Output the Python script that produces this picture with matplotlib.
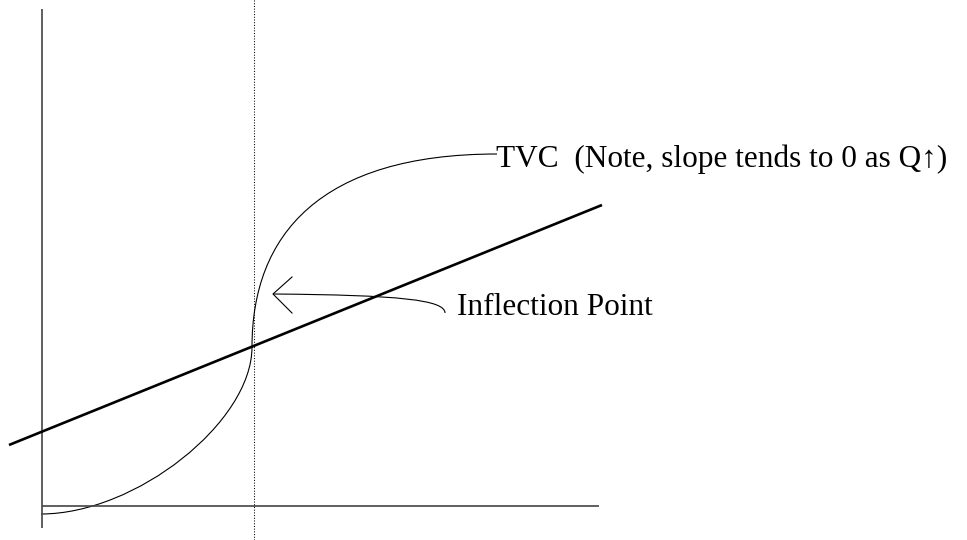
#!/usr/bin/env python3
"""
Sketch of a total variable cost (TVC) curve with its inflection point,
drawn in pixel coordinates of the original diagram.
"""
import matplotlib
matplotlib.use("Agg")
import matplotlib.pyplot as plt
from matplotlib.path import Path
from matplotlib.patches import PathPatch

# axes of the sketch (pixel coords, y down)
yaxis_x = [42, 42]
yaxis_y = [9, 528]
xaxis_x = [42, 599]
xaxis_y = [506, 506]

# dotted guide through the inflection point
guide_x = [254, 254]
guide_y = [0, 540]

# straight (tangent-like) line
line_x = [9, 602]
line_y = [445, 205]

# TVC curve as two cubic bezier pieces: start, ctrl, ctrl, end
tvc_low_x = [41, 136, 252, 252]
tvc_low_y = [514, 514, 422, 347]
tvc_high_x = [252, 252, 320, 497]
tvc_high_y = [347, 235, 154, 154]

# leader from label to the inflection point
lead_x = [445, 445, 400, 273]
lead_y = [313, 300, 295, 294]
head_x = [292, 273, 292]
head_y = [277, 294, 313]

tvc_label = "TVC  (Note, slope tends to 0 as Q\u2191)"
tvc_label_pos = (496, 167)
infl_label = "Inflection Point"
infl_label_pos = (457, 315)


def bezier(xs, ys):
    verts = list(zip(xs, ys))
    codes = [Path.MOVETO, Path.CURVE4, Path.CURVE4, Path.CURVE4]
    return Path(verts, codes)


fig = plt.figure(figsize=(9.67, 5.4), dpi=100)
ax = fig.add_axes([0, 0, 1, 1])
ax.set_xlim(0, 967)
ax.set_ylim(540, 0)
ax.axis('off')

ax.plot(yaxis_x, yaxis_y, color='#444444', lw=1.2, solid_capstyle='butt')
ax.plot(xaxis_x, xaxis_y, color='#444444', lw=1.2, solid_capstyle='butt')
ax.plot(guide_x, guide_y, color='black', lw=0.75, linestyle=(0, (1, 1.6)))
ax.plot(line_x, line_y, color='black', lw=1.9, solid_capstyle='butt')

for xs, ys in [(tvc_low_x, tvc_low_y), (tvc_high_x, tvc_high_y),
               (lead_x, lead_y)]:
    ax.add_patch(PathPatch(bezier(xs, ys), facecolor='none',
                           edgecolor='black', lw=0.8))
ax.plot(head_x, head_y, color='black', lw=0.8)

fonts = ['Liberation Serif', 'DejaVu Serif']
ax.text(*tvc_label_pos, tvc_label, family=fonts, fontsize=22.5,
        ha='left', va='baseline')
ax.text(*infl_label_pos, infl_label, family=fonts, fontsize=22.5,
        ha='left', va='baseline')

fig.savefig('out.png', dpi=100, facecolor='white')
